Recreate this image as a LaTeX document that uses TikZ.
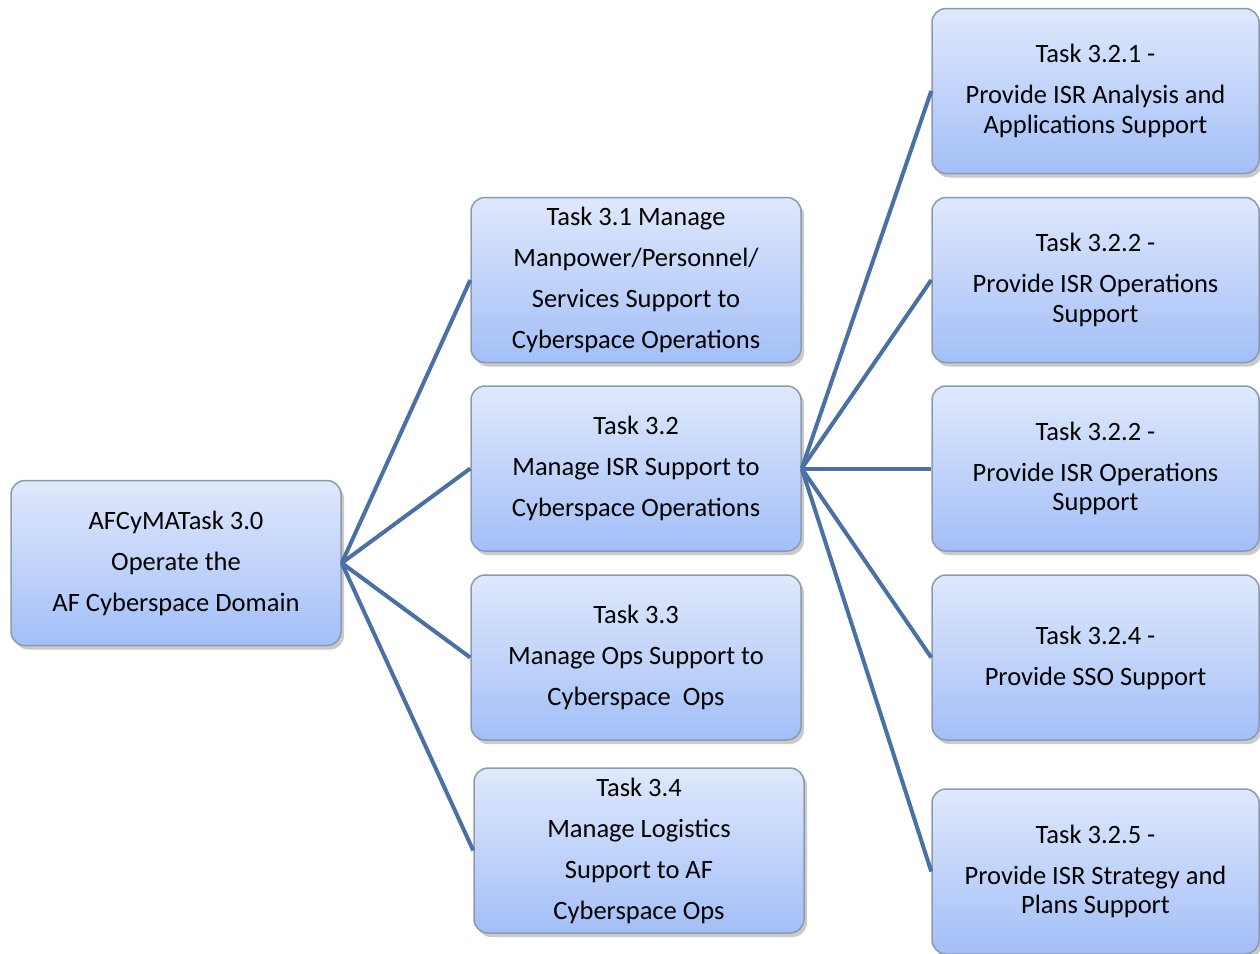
\documentclass[tikz,border=0pt]{standalone}
\usepackage{fontspec}
\setmainfont{Carlito}
\usetikzlibrary{shadows}
\definecolor{linkblue}{HTML}{4A70A6}
\definecolor{boxtop}{HTML}{DFE8FC}
\definecolor{boxbot}{HTML}{A3BFF7}
\definecolor{boxedge}{HTML}{8D99AD}
\tikzset{
  task/.style={rounded corners=14pt, draw=boxedge, line width=1.5pt,
    top color=boxtop, bottom color=boxbot,
    minimum width=330pt, minimum height=165pt, inner sep=0pt, align=center,
    font=\fontsize{26.5}{41}\selectfont,
    drop shadow={shadow xshift=3pt, shadow yshift=-4pt, opacity=0.35, fill=black!60}},
  subtask/.style={task, minimum width=327pt, font=\fontsize{26.5}{29.5}\selectfont},
  link/.style={draw=linkblue, line width=4pt}
}
\begin{document}
\begin{tikzpicture}[x=1pt, y=-1pt]
  \useasboundingbox (0,0) rectangle (1260,953);
  % root
  \node[task] (root) at (176,563) {AFCyMATask 3.0\\Operate the\\AF Cyberspace Domain};
  % second level
  \node[task] (t31) at (636,280) {Task 3.1 Manage\\Manpower/Personnel/\\Services Support to\\Cyberspace Operations};
  \node[task] (t32) at (636,468.5) {Task 3.2\\Manage ISR Support to\\Cyberspace Operations};
  \node[task] (t33) at (636,657.5) {Task 3.3\\Manage Ops Support to\\Cyberspace\ \ Ops};
  \node[task] (t34) at (639,850.5) {Task 3.4\\Manage Logistics\\Support to AF\\Cyberspace Ops};
  % third level
  \node[subtask] (t321) at (1095.5,91) {Task 3.2.1 -\\[11.5pt]Provide ISR Analysis and\\Applications Support};
  \node[subtask] (t322) at (1095.5,280) {Task 3.2.2 -\\[11.5pt]Provide ISR Operations\\Support};
  \node[subtask] (t323) at (1095.5,468.5) {Task 3.2.2 -\\[11.5pt]Provide ISR Operations\\Support};
  \node[subtask] (t324) at (1095.5,657.5) {Task 3.2.4 -\\[11.5pt]Provide SSO Support};
  \node[subtask] (t325) at (1095.5,871.5) {Task 3.2.5 -\\[11.5pt]Provide ISR Strategy and\\Plans Support};
  % connectors
  \foreach \n in {t31,t32,t33,t34}
    \draw[link] (root.east) -- (\n.west);
  \foreach \n in {t321,t322,t323,t324,t325}
    \draw[link] (t32.east) -- (\n.west);
\end{tikzpicture}
\end{document}
